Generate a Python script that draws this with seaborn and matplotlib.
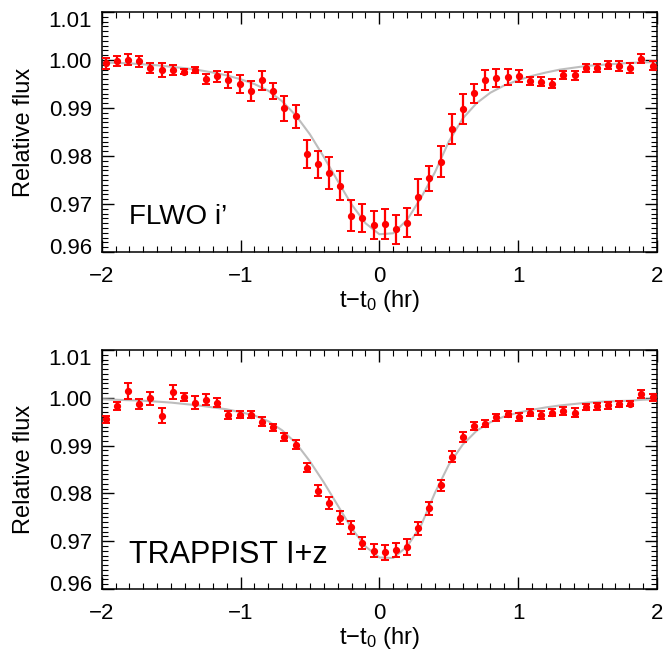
import numpy as np
import pandas as pd
import matplotlib
matplotlib.use("Agg")
import matplotlib.pyplot as plt
import matplotlib.transforms as mtransforms
from matplotlib.ticker import MultipleLocator, FixedLocator
import seaborn as sns

# ---------------- data ----------------
t_obs = [-1.971, -1.891, -1.810, -1.730, -1.649, -1.569, -1.489, -1.408, -1.328, -1.247,
         -1.167, -1.087, -1.006, -0.926, -0.845, -0.765, -0.685, -0.604, -0.524, -0.443,
         -0.363, -0.283, -0.202, -0.122, -0.041, 0.039, 0.119, 0.200, 0.280, 0.361,
         0.441, 0.521, 0.602, 0.682, 0.763, 0.843, 0.923, 1.004, 1.084, 1.165,
         1.245, 1.325, 1.406, 1.486, 1.567, 1.647, 1.727, 1.808, 1.888, 1.969]

flwo_flux = [0.9993, 0.9998, 1.0001, 0.9997, 0.9983, 0.9979, 0.9979, 0.9976, 0.9979, 0.9960,
             0.9966, 0.9958, 0.9950, 0.9936, 0.9958, 0.9935, 0.9899, 0.9883, 0.9804, 0.9783,
             0.9765, 0.9738, 0.9676, 0.9671, 0.9657, 0.9658, 0.9647, 0.9661, 0.9715, 0.9754,
             0.9788, 0.9856, 0.9898, 0.9931, 0.9958, 0.9963, 0.9965, 0.9967, 0.9956, 0.9955,
             0.9951, 0.9969, 0.9968, 0.9983, 0.9983, 0.9990, 0.9988, 0.9983, 1.0003, 0.9988]
flwo_err = [0.0011, 0.0010, 0.0011, 0.0012, 0.0011, 0.0015, 0.0010, 0.0005, 0.0007, 0.0011,
            0.0011, 0.0016, 0.0019, 0.0021, 0.0020, 0.0017, 0.0027, 0.0024, 0.0029, 0.0028,
            0.0033, 0.0030, 0.0032, 0.0030, 0.0029, 0.0031, 0.0030, 0.0030, 0.0037, 0.0026,
            0.0032, 0.0032, 0.0032, 0.0020, 0.0021, 0.0019, 0.0017, 0.0013, 0.0009, 0.0009,
            0.0010, 0.0008, 0.0009, 0.0009, 0.0008, 0.0008, 0.0010, 0.0010, 0.0009, 0.0009]

trap_flux = [0.9955, 0.9983, 1.0015, 0.9987, 0.9999, 0.9963, 1.0012, 1.0002, 0.9990, 0.9996,
             0.9990, 0.9964, 0.9965, 0.9965, 0.9950, 0.9938, 0.9918, 0.9902, 0.9854, 0.9806,
             0.9780, 0.9749, 0.9729, 0.9696, 0.9680, 0.9677, 0.9682, 0.9688, 0.9727, 0.9769,
             0.9817, 0.9877, 0.9918, 0.9941, 0.9946, 0.9959, 0.9966, 0.9960, 0.9969, 0.9964,
             0.9969, 0.9973, 0.9969, 0.9981, 0.9982, 0.9984, 0.9987, 0.9988, 1.0008, 1.0001]
trap_err = [0.0007, 0.0009, 0.0017, 0.0010, 0.0013, 0.0015, 0.0014, 0.0008, 0.0014, 0.0012,
            0.0009, 0.0009, 0.0007, 0.0008, 0.0009, 0.0008, 0.0009, 0.0009, 0.0009, 0.0012,
            0.0012, 0.0014, 0.0014, 0.0013, 0.0014, 0.0016, 0.0015, 0.0016, 0.0014, 0.0014,
            0.0011, 0.0011, 0.0010, 0.0009, 0.0008, 0.0008, 0.0007, 0.0008, 0.0007, 0.0008,
            0.0008, 0.0008, 0.0009, 0.0007, 0.0008, 0.0007, 0.0006, 0.0006, 0.0009, 0.0008]

t_model = [-2.0, -1.9, -1.8, -1.7, -1.6, -1.5, -1.4, -1.3, -1.2, -1.1,
           -1.0, -0.9, -0.8, -0.7, -0.6, -0.5, -0.4, -0.3, -0.2, -0.1,
           0.0, 0.1, 0.2, 0.3, 0.4, 0.5, 0.6, 0.7, 0.8, 0.9,
           1.0, 1.1, 1.2, 1.3, 1.4, 1.5, 1.6, 1.7, 1.8, 1.9, 2.0]
flwo_model = [0.9995, 0.9994, 0.9993, 0.9991, 0.9989, 0.9986, 0.9983, 0.9979, 0.9974, 0.9968,
              0.9960, 0.9950, 0.9936, 0.9914, 0.9884, 0.9845, 0.9798, 0.9748, 0.9699, 0.9660,
              0.9637, 0.9639, 0.9667, 0.9713, 0.9766, 0.9830, 0.9878, 0.9910, 0.9932, 0.9947,
              0.9958, 0.9967, 0.9974, 0.9980, 0.9984, 0.9988, 0.9990, 0.9992, 0.9994, 0.9995, 0.9996]
trap_model = [0.9997, 0.9996, 0.9995, 0.9994, 0.9992, 0.9990, 0.9987, 0.9984, 0.9980, 0.9976,
              0.9970, 0.9963, 0.9951, 0.9932, 0.9905, 0.9867, 0.9823, 0.9775, 0.9727, 0.9689,
              0.9666, 0.9665, 0.9689, 0.9733, 0.9801, 0.9860, 0.9902, 0.9931, 0.9949, 0.9961,
              0.9969, 0.9975, 0.9980, 0.9984, 0.9987, 0.9990, 0.9992, 0.9993, 0.9994, 0.9996, 0.9997]

panel_labels = ["FLWO i\u2019", "TRAPPIST I+z"]
x_ticks = [-2, -1, 0, 1, 2]
y_ticks = [0.96, 0.97, 0.98, 0.99, 1.00, 1.01]

# ---------------- style ----------------
sns.set_theme(style="ticks")
plt.rcParams["font.family"] = ["Liberation Sans", "DejaVu Sans"]
plt.rcParams["mathtext.fontset"] = "custom"
plt.rcParams["mathtext.rm"] = "Liberation Sans"
plt.rcParams["mathtext.it"] = "Liberation Sans"
plt.rcParams["mathtext.default"] = "regular"
for key in ["text.color", "axes.labelcolor", "xtick.color", "ytick.color",
            "xtick.labelcolor", "ytick.labelcolor", "axes.edgecolor"]:
    plt.rcParams[key] = "black"

fig = plt.figure(figsize=(6.63, 6.50), dpi=100)
ax_top = fig.add_axes([0.1534, 0.6123, 0.8376, 0.3692])
ax_bot = fig.add_axes([0.1534, 0.0938, 0.8376, 0.3677])

panels = [
    (ax_top, flwo_flux, flwo_err, flwo_model, panel_labels[0], 20, 0.96583),
    (ax_bot, trap_flux, trap_err, trap_model, panel_labels[1], 22, 0.96548),
]

for ax, flux, err, model, label, fs, ytxt in panels:
    dfm = pd.DataFrame({"t": t_model, "f": model})
    sns.lineplot(data=dfm, x="t", y="f", ax=ax, color="#bdbdbd", lw=1.5, zorder=1)
    ax.errorbar(t_obs, flux, yerr=err, fmt="o", color="#ff0000", ms=4.2,
                elinewidth=1.6, capsize=2.6, capthick=1.4, zorder=3)
    ax.set_xlim(-2, 2)
    ax.set_ylim(0.96, 1.01)
    ax.xaxis.set_major_locator(FixedLocator(x_ticks))
    ax.xaxis.set_minor_locator(MultipleLocator(0.1))
    ax.yaxis.set_major_locator(FixedLocator(y_ticks))
    ax.yaxis.set_minor_locator(MultipleLocator(0.001))
    ax.set_xticklabels([str(v) if v >= 0 else "\u2212" + str(-v) for v in x_ticks])
    ax.set_yticklabels([f"{v:.2f}" for v in y_ticks])
    ax.tick_params(which="both", direction="in", top=True, right=True,
                   color="black", labelcolor="black")
    ax.tick_params(which="major", length=8.5, width=1.0, labelsize=16, pad=7)
    ax.tick_params(axis="x", which="major", pad=10)
    ax.tick_params(which="minor", length=4.3, width=0.8)
    for s in ax.spines.values():
        s.set_linewidth(1.1)
        s.set_color("black")
    ax.set_xlabel("t\u2212t$_0$ (hr)", fontsize=17, labelpad=1, color="black")
    ax.set_ylabel("Relative flux", fontsize=17, labelpad=10, color="black")
    ax.text(-1.80, ytxt, label, fontsize=fs, ha="left", va="baseline", color="black")
    # shift extreme y labels inward like the original
    ylabs = ax.get_yticklabels()
    ylabs[0].set_transform(ylabs[0].get_transform() +
                           mtransforms.ScaledTranslation(0, 6.5 / 100, fig.dpi_scale_trans))
    ylabs[-1].set_transform(ylabs[-1].get_transform() +
                            mtransforms.ScaledTranslation(0, -6.5 / 100, fig.dpi_scale_trans))

fig.savefig("out.png", dpi=100)
